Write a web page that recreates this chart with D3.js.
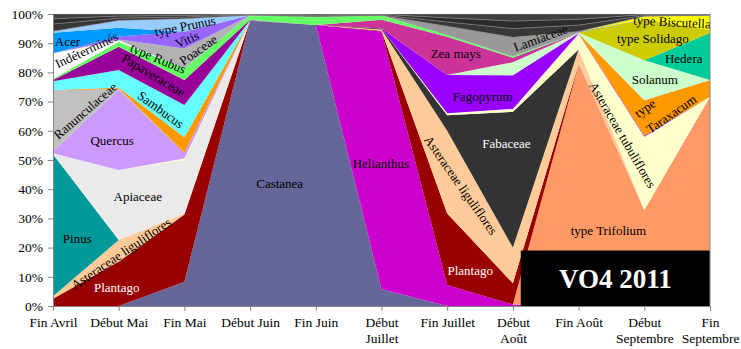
<!DOCTYPE html>
<html>
<head>
<meta charset="utf-8">
<script src="https://cdn.jsdelivr.net/npm/d3@7"></script>
<style>
  body { margin: 0; background: #fff; }
  svg text { font-family: "Liberation Serif", "Times New Roman", serif; }
</style>
</head>
<body>
<div id="chart"></div>
<script>
// categories / tick labels
const categories = ["Fin Avril", "Début Mai", "Fin Mai", "Début Juin", "Fin Juin", "Début Juillet",
  "Fin Juillet", "Début Août", "Fin Août", "Début Septembre", "Fin Septembre"];
const tickLines = [["Fin Avril"], ["Début Mai"], ["Fin Mai"], ["Début Juin"], ["Fin Juin"], ["Début", "Juillet"],
  ["Fin Juillet"], ["Début", "Août"], ["Fin Août"], ["Début", "Septembre"], ["Fin", "Septembre"]];
const yTicks = [0, 0.1, 0.2, 0.3, 0.4, 0.5, 0.6, 0.7, 0.8, 0.9, 1];

// pollen shares (%), stacked from bottom to top
const castanea     = [0, 0, 8.3, 97.7, 96.2, 5.7, 0, 0, 0, 0, 0];
const helianthus   = [0, 0, 0, 0, 0, 88.3, 7.2, 0.5, 0, 0, 0];
const trifolium    = [0, 0, 0, 0, 0, 0, 0, 0, 82.5, 32.9, 71.7];
const plantago     = [2.5, 15.2, 23, 0.1, 0, 0.3, 24.5, 7.3, 0.3, 0, 0];
const astLig       = [0.8, 7.4, 0.4, 0, 0, 0.4, 28.3, 12.2, 5, 0, 0];
const pinus        = [48.7, 0, 0, 0, 0, 0, 0, 0, 0, 0, 0];
const apiaceae     = [0.3, 24, 18.3, 0, 0, 0, 0, 0, 0, 0, 0];
const fabaceae     = [0, 0, 0, 0, 0, 0.3, 5.3, 46.5, 0, 0, 0];
const astTub       = [0, 0, 0.5, 0, 0, 0, 0.7, 1, 5.4, 25.1, 0];
const quercus      = [0.7, 27.4, 2, 0, 0, 0, 0, 0, 0, 0, 0];
const ranunc       = [21, 0.5, 0, 0, 0, 0, 0, 0, 0, 0, 0];
const fagopyrum    = [0, 0, 0, 0, 0, 0, 13.1, 11.5, 0.2, 0.3, 0];
const taraxacum    = [0, 0.3, 5.3, 0, 0, 0, 0, 0, 0, 12.2, 5.7];
const sambucus     = [3, 6, 11, 0.1, 0, 0, 0, 0, 0, 0, 0];
const solanum      = [0, 0, 0, 0, 0, 0, 0, 4.5, 0.2, 13.7, 0];
const hedera       = [0, 0, 0, 0, 0, 0, 0, 0, 0, 0, 16.1];
const solidago     = [0, 0, 0, 0, 0, 0, 0, 0, 0, 14, 1];
const papaver      = [0.4, 8, 8.6, 0.1, 0, 0, 0, 0, 0, 0, 0];
const zeaMays      = [0, 0, 0, 0, 0, 3, 13.1, 1.5, 0, 0, 0];
const rubus        = [0.4, 1.7, 4, 1.6, 2.9, 1.5, 0.6, 0.5, 0, 0, 0];
const indet        = [8.8, 0.5, 0, 0, 0, 0, 0, 0, 0, 0, 0];
const poaceae      = [0, 0.3, 6.8, 0, 0, 0, 0, 0, 0, 0, 0];
const lamiaceae    = [0, 0, 0, 0, 0, 0, 3, 6.5, 0.4, 0, 0];
const vitis        = [0, 1, 5.7, 0, 0, 0, 0, 0, 0, 0, 0];
const acer         = [7, 3, 0, 0, 0, 0, 0, 0, 0, 0, 0];
const prunus       = [0.5, 2.5, 4.5, 0, 0, 0, 0, 0, 0, 0, 0];
const biscutella   = [0, 0, 0, 0, 0, 0, 0, 0, 0, 1, 5];
const autresA      = [2.5, 0.8, 0.6, 0.2, 0.3, 0.2, 1.5, 3, 2.2, 0.3, 0.2];
const autresB      = [1.8, 0.7, 0.5, 0.1, 0.3, 0.2, 1.4, 2.6, 2, 0.3, 0.2];
const autresC      = [1.6, 0.7, 0.5, 0.1, 0.3, 0.1, 1.3, 2.4, 1.8, 0.2, 0.1];

const series = [
  ["Castanea", castanea], ["Helianthus", helianthus], ["type Trifolium", trifolium],
  ["Plantago", plantago], ["Asteraceae liguliflores", astLig], ["Pinus", pinus],
  ["Apiaceae", apiaceae], ["Fabaceae", fabaceae], ["Asteraceae tubuliflores", astTub],
  ["Quercus", quercus], ["Ranunculaceae", ranunc], ["Fagopyrum", fagopyrum],
  ["type Taraxacum", taraxacum], ["Sambucus", sambucus], ["Solanum", solanum],
  ["Hedera", hedera], ["type Solidago", solidago], ["Papaveraceae", papaver],
  ["Zea mays", zeaMays], ["type Rubus", rubus], ["Indéterminés", indet],
  ["Poaceae", poaceae], ["Lamiaceae", lamiaceae], ["Vitis", vitis], ["Acer", acer],
  ["type Prunus", prunus], ["type Biscutella", biscutella],
  ["Autres A", autresA], ["Autres B", autresB], ["Autres C", autresC]
];

const colors = {
  "Castanea": "#666699", "Helianthus": "#cc00cc", "type Trifolium": "#ff9966",
  "Plantago": "#990000", "Asteraceae liguliflores": "#ffcc99", "Pinus": "#009999",
  "Apiaceae": "#eaeaea", "Fabaceae": "#333333", "Asteraceae tubuliflores": "#ffffcc",
  "Quercus": "#cc99ff", "Ranunculaceae": "#c0c0c0", "Fagopyrum": "#9900ff",
  "type Taraxacum": "#ff9900", "Sambucus": "#66ffff", "Solanum": "#ccffcc",
  "Hedera": "#00cc99", "type Solidago": "#cccc00", "Papaveraceae": "#990099",
  "Zea mays": "#cc3399", "type Rubus": "#66ff66", "Indéterminés": "#ffffff",
  "Poaceae": "#b2b2b2", "Lamiaceae": "#999999", "Vitis": "#9966ff", "Acer": "#0099ff",
  "type Prunus": "#99ccff", "type Biscutella": "#ffff00",
  "Autres A": "#383838", "Autres B": "#2c2c2c", "Autres C": "#404040"
};

// in-chart labels: [text, category position, percent, rotation, colour]
const labels = [
  ["Acer", 0.22, 90.7, 0, "#000"],
  ["Indéterminés", 0.51, 87.7, -25, "#000"],
  ["type Prunus", 2.01, 95.9, -11, "#000"],
  ["Vitis", 2.04, 91.3, -24, "#000"],
  ["Poaceae", 2.21, 87.7, -35, "#000"],
  ["type Rubus", 1.6, 84.8, 23, "#000"],
  ["Papaveraceae", 1.53, 79.1, 31, "#000"],
  ["Sambucus", 1.64, 67.3, 36, "#000"],
  ["Ranunculaceae", 0.49, 66.9, -41, "#000"],
  ["Quercus", 0.9, 56.8, 0, "#000"],
  ["Apiaceae", 1.29, 37.4, 0, "#000"],
  ["Pinus", 0.37, 23.3, 0, "#000"],
  ["Asteraceae liguliflores", 1.035, 18, -34, "#000"],
  ["Plantago", 0.97, 6.2, 0, "#fff"],
  ["Castanea", 3.45, 42.1, 0, "#000"],
  ["Helianthus", 4.99, 48.9, 0, "#000"],
  ["Zea mays", 6.13, 86.5, 0, "#000"],
  ["Fagopyrum", 6.54, 71.9, 0, "#000"],
  ["Fabaceae", 6.9, 55.7, 0, "#fff"],
  ["Asteraceae liguliflores", 6.21, 41.4, 55, "#000"],
  ["Plantago", 6.35, 12.3, 0, "#fff"],
  ["Lamiaceae", 7.42, 91.8, -20, "#000"],
  ["type Biscutella", 9.42, 97.3, 3, "#000"],
  ["type Solidago", 9.13, 91.8, 0, "#000"],
  ["Hedera", 9.6, 84.9, 0, "#000"],
  ["Solanum", 9.16, 77.7, 0, "#000"],
  ["type", 9.01, 67.8, -35, "#000"],
  ["Taraxacum", 9.41, 65.8, -35, "#000"],
  ["Asteraceae tubuliflores", 8.67, 58.6, 60, "#000"],
  ["type Trifolium", 8.455, 26, 0, "#000"]
];

const width = 741;
const height = 349;
const margin = { top: 14, right: 31, bottom: 43, left: 53 };

const svg = d3.select("#chart")
  .append("svg")
  .attr("width", width)
  .attr("height", height);

const x = d3.scalePoint()
  .domain(categories)
  .range([margin.left, width - margin.right]);

const y = d3.scaleLinear()
  .domain([0, 1])
  .range([height - margin.bottom, margin.top]);

const xAt = i => x(categories[0]) + i * x.step();

const rows = categories.map((c, i) => {
  const r = { cat: c };
  series.forEach(([name, vals]) => r[name] = vals[i]);
  return r;
});

const stacked = d3.stack()
  .keys(series.map(s => s[0]))
  .offset(d3.stackOffsetExpand)(rows);

const area = d3.area()
  .x(d => x(d.data.cat))
  .y0(d => y(d[0]))
  .y1(d => y(d[1]));

svg.append("defs").append("clipPath").attr("id", "plot")
  .append("rect")
  .attr("x", margin.left).attr("y", margin.top)
  .attr("width", width - margin.left - margin.right)
  .attr("height", height - margin.top - margin.bottom);

svg.append("g")
  .attr("clip-path", "url(#plot)")
  .selectAll("path")
  .data(stacked)
  .join("path")
  .attr("d", area)
  .attr("fill", d => colors[d.key])
  .attr("stroke", d => d.key.startsWith("Autres") ? "#8a8a8a" : "none")
  .attr("stroke-width", 0.5);

// black title box
svg.append("rect")
  .attr("x", xAt(7.12))
  .attr("y", y(0.19))
  .attr("width", x(categories[10]) - xAt(7.12))
  .attr("height", y(0) - y(0.19))
  .attr("fill", "#000");

svg.append("text")
  .attr("x", (xAt(7.12) + x(categories[10])) / 2)
  .attr("y", (y(0) + y(0.19)) / 2)
  .attr("dy", "0.35em")
  .attr("text-anchor", "middle")
  .attr("fill", "#fff")
  .attr("font-weight", "bold")
  .attr("font-size", "27px")
  .text("VO4 2011");

// labels
svg.append("g")
  .selectAll("text")
  .data(labels)
  .join("text")
  .attr("transform", d => `translate(${xAt(d[1])},${y(d[2] / 100)}) rotate(${d[3]})`)
  .attr("text-anchor", "middle")
  .attr("dy", "0.35em")
  .attr("font-size", "13px")
  .attr("fill", d => d[4])
  .text(d => d[0]);

// axes
const yAxis = g => {
  g.attr("transform", `translate(${margin.left},0)`)
    .call(d3.axisLeft(y).tickValues(yTicks).tickFormat(d3.format(".0%")).tickSize(5).tickSizeOuter(0).tickPadding(5))
    .attr("font-size", "13.5px")
    .attr("font-family", null);
  g.selectAll("path, line").attr("stroke", "#868686");
  g.selectAll("text").attr("fill", "#000");
};

const xAxis = g => {
  g.attr("transform", `translate(0,${height - margin.bottom})`)
    .call(d3.axisBottom(x).tickSize(5).tickSizeOuter(0).tickPadding(6).tickFormat(""))
    .attr("font-size", "13.5px")
    .attr("font-family", null);
  g.selectAll("path, line").attr("stroke", "#868686");
  g.selectAll(".tick text").each(function (d, i) {
    const t = d3.select(this).attr("fill", "#000");
    tickLines[i].forEach((line, k) => {
      t.append("tspan").attr("x", 0).attr("dy", k === 0 ? "0.71em" : "1.18em").text(line);
    });
  });
};

svg.append("g").call(xAxis);
svg.append("g").call(yAxis);

// right border of the plot area
svg.append("line")
  .attr("x1", x(categories[10])).attr("x2", x(categories[10]))
  .attr("y1", y(0)).attr("y2", y(1))
  .attr("stroke", "#868686");
</script>
</body>
</html>
